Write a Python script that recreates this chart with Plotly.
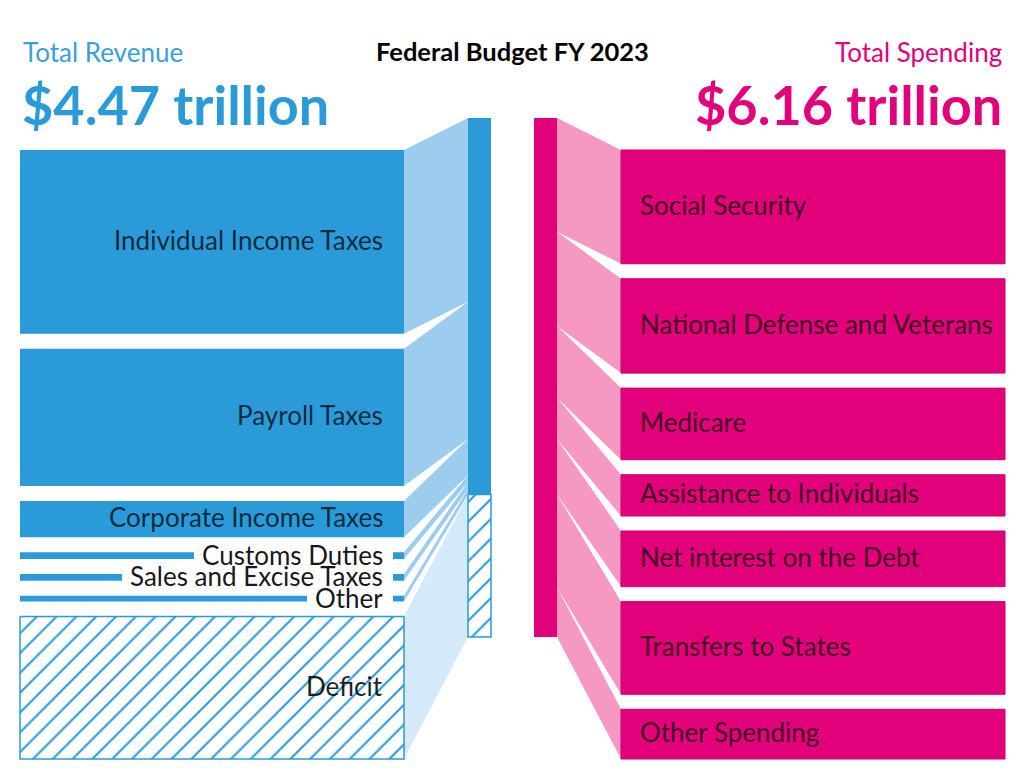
import plotly.graph_objects as go

# ---------------- data (trillions of dollars) ----------------
rev_labels = ["Individual Income Taxes", "Payroll Taxes", "Corporate Income Taxes",
              "Customs Duties", "Sales and Excise Taxes", "Other"]
rev_values = [2.18, 1.63, 0.43, 0.08, 0.08, 0.07]
deficit_label = "Deficit"
deficit_value = 1.69

spend_labels = ["Social Security", "National Defense and Veterans", "Medicare",
                "Assistance to Individuals", "Net interest on the Debt",
                "Transfers to States", "Other Spending"]
spend_values = [1.35, 1.12, 0.85, 0.49, 0.66, 1.10, 0.59]

total_revenue = 4.47
total_spending = 6.16
title_text = "Federal Budget FY 2023"

# ---------------- layout constants (pixels) ----------------
W, H = 1024, 768
K = 519.0 / total_spending      # px per trillion
BAR_TOP = 118
COL_TOP = 150
GAP = 15
L_X0, L_X1 = 20, 404
RB_X0, RB_X1 = 468, 491
SB_X0, SB_X1 = 534, 557
R_X0, R_X1 = 621, 1005
PAD = 20
THIN = 0.1                      # values below this are drawn as thin labelled bars
LABEL_SIZE = 26
YSHIFT = 2

BLUE = "#2a9bd8"
FLOW_BLUE = "#9dcdee"
FLOW_DEF = "#d5eaf8"
MAGENTA = "#e2007b"
PINK = "#f598c2"
FONT = "Lato"
LABEL_COLOR = "rgba(0,0,0,0.74)"

fig = go.Figure()


def poly(xs, ys, color, line_color=None, line_width=0, pattern=None):
    kw = dict(x=list(xs) + [xs[0]], y=list(ys) + [ys[0]], mode="lines", fill="toself",
              fillcolor=color, hoverinfo="skip", showlegend=False,
              line=dict(color=line_color or color, width=line_width))
    if pattern:
        kw["fillpattern"] = pattern
    fig.add_trace(go.Scatter(**kw))


def rect(x0, x1, y0, y1, color, **kw):
    poly([x0, x1, x1, x0], [y0, y0, y1, y1], color, **kw)


hatch = dict(shape="/", fgcolor=BLUE, bgcolor="white", size=14, solidity=0.15, fillmode="replace")

annotations = []
labels_after = []

# ---------------- revenue side ----------------
y = COL_TOP
c = BAR_TOP
for lab, v in zip(rev_labels, rev_values):
    h = v * K
    y0, y1 = y, y + h
    c0, c1 = c, c + h
    poly([L_X1, RB_X0, RB_X0, L_X1], [y0, c0, c1, y1], FLOW_BLUE)
    rect(L_X0, L_X1, y0, y1, BLUE)
    ym = (y0 + y1) / 2
    if v < THIN:
        # white knock-out behind the label, sized by the label text itself
        annotations.append(dict(x=L_X1 - PAD + 9, y=ym, xref="x", yref="y", text=lab,
                                showarrow=False, xanchor="right", yanchor="middle",
                                font=dict(family=FONT, size=LABEL_SIZE, color="rgba(0,0,0,0)"),
                                bgcolor="white", borderpad=9, borderwidth=0, height=1))
        col = "rgba(0,0,0,0.92)"
        ys = 1
    else:
        col = LABEL_COLOR
        ys = YSHIFT
    labels_after.append(dict(x=L_X1 - PAD, y=ym, xref="x", yref="y", text=lab,
                             showarrow=False, xanchor="right", yanchor="middle", yshift=ys,
                             font=dict(family=FONT, size=LABEL_SIZE, color=col), borderpad=0))
    y = y1 + GAP
    c = c1

# deficit
h = deficit_value * K
y0, y1 = y, y + h
c0, c1 = c, c + h
poly([L_X1, RB_X0, RB_X0, L_X1], [y0, c0, c1, y1], FLOW_DEF)
rect(L_X0, L_X1, y0, y1, "white", line_color=BLUE, line_width=1.5, pattern=hatch)
labels_after.append(dict(x=L_X1 - PAD, y=(y0 + y1) / 2, xref="x", yref="y", text=deficit_label,
                         showarrow=False, xanchor="right", yanchor="middle", yshift=YSHIFT,
                         font=dict(family=FONT, size=LABEL_SIZE, color="rgba(0,0,0,0.88)"),
                         borderpad=0))

# revenue central bar
rect(RB_X0, RB_X1, BAR_TOP, BAR_TOP + total_revenue * K, BLUE)
rect(RB_X0, RB_X1, BAR_TOP + total_revenue * K, BAR_TOP + (total_revenue + deficit_value) * K,
     "white", line_color=BLUE, line_width=1.5, pattern=hatch)

# ---------------- spending side ----------------
y = COL_TOP
c = BAR_TOP
for lab, v in zip(spend_labels, spend_values):
    h = v * K
    y0, y1 = y, y + h
    c0, c1 = c, c + h
    poly([SB_X1, R_X0, R_X0, SB_X1], [c0, y0, y1, c1], PINK)
    rect(R_X0, R_X1, y0, y1, MAGENTA, line_color="#c8006c", line_width=1)
    labels_after.append(dict(x=R_X0 + PAD - 2, y=(y0 + y1) / 2, xref="x", yref="y", text=lab,
                             showarrow=False, xanchor="left", yanchor="middle", yshift=YSHIFT,
                             font=dict(family=FONT, size=LABEL_SIZE, color=LABEL_COLOR),
                             borderpad=0))
    y = y1 + GAP
    c = c1

rect(SB_X0, SB_X1, BAR_TOP, BAR_TOP + total_spending * K, MAGENTA)

# ---------------- headers ----------------
annotations += labels_after
headers = [
    dict(x=L_X0 + 1, y=52, text="Total Revenue", xanchor="left",
         font=dict(family=FONT, size=26, color="#3a9fd8")),
    dict(x=L_X0, y=104, text=f"${total_revenue:.2f} trillion", xanchor="left",
         font=dict(family=FONT, size=54, color=BLUE, weight="bold")),
    dict(x=W / 2, y=51, text=title_text, xanchor="center",
         font=dict(family=FONT, size=25.5, color="black", weight="bold")),
    dict(x=R_X1 - 1, y=52, text="Total Spending", xanchor="right",
         font=dict(family=FONT, size=26, color="#e0007b")),
    dict(x=R_X1 - 1, y=104, text=f"${total_spending:.2f} trillion", xanchor="right",
         font=dict(family=FONT, size=54, color=MAGENTA, weight="bold")),
]
for a in headers:
    a.update(xref="x", yref="y", showarrow=False, yanchor="middle")
annotations += headers

fig.update_layout(
    width=W, height=H, margin=dict(l=0, r=0, t=0, b=0),
    paper_bgcolor="white", plot_bgcolor="white", showlegend=False,
    xaxis=dict(range=[0, W], visible=False, fixedrange=True),
    yaxis=dict(range=[H, 0], visible=False, fixedrange=True),
    annotations=annotations, hovermode=False,
)

fig.write_html("out.html", config={"displayModeBar": False},
               post_script="document.body.style.margin='0px';")
